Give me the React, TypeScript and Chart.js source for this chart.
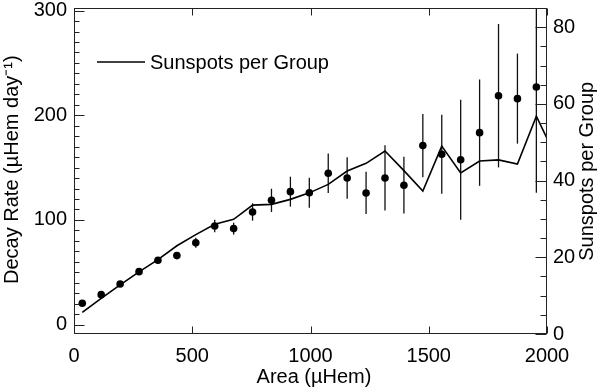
import { useEffect, useRef } from "react";
import { Chart, registerables } from "chart.js";

Chart.register(...registerables);

// ---------- data ----------
const AREA = [35, 115, 195, 275, 355, 435, 515, 595, 675, 755, 835, 915, 995, 1075, 1155, 1235, 1315, 1395, 1475, 1555, 1635, 1715, 1795, 1875, 1955];
const DECAY_RATE = [20.4, 28.6, 38.8, 50.6, 61.4, 65.9, 78.2, 94.2, 91.7, 107.6, 118.7, 127.0, 126.0, 144.6, 140.1, 125.8, 140.1, 133.2, 171.0, 162.7, 157.5, 183.4, 218.7, 215.9, 227.0];
const DECAY_RATE_ERROR = [2, 2, 2, 2.5, 3, 3, 4.8, 6, 5.7, 8.3, 11.1, 14.3, 14.3, 18.9, 19.9, 20.2, 31.2, 27.1, 30.3, 37.8, 57.3, 50.8, 68.5, 43, 101];
const LINE_AREA = [35, 115, 195, 275, 355, 435, 515, 595, 675, 755, 835, 915, 995, 1075, 1155, 1235, 1315, 1395, 1475, 1555, 1635, 1715, 1795, 1875, 1955, 2035];
const SUNSPOTS_PER_GROUP = [5.65, 9.3, 12.8, 16.2, 19.4, 23.0, 25.9, 28.6, 29.9, 33.6, 33.8, 35.1, 36.8, 39.0, 42.5, 44.5, 47.7, 42.6, 37.3, 49.0, 42.0, 45.1, 45.4, 44.3, 56.8, 46.5];

const X_TICKS = [0, 500, 1000, 1500, 2000];
const Y_TICKS = [0, 100, 200, 300];
const Y2_TICKS = [0, 20, 40, 60, 80];
const Y_MINOR_STEP = 10;
const Y2_MINOR_STEP = 5;

const LEGEND_LABEL = "Sunspots per Group";
const X_TITLE = "Area (µHem)";
const Y_TITLE = "Decay Rate (µHem day⁻¹)";
const Y2_TITLE = "Sunspots per Group";

const FONT = "'Liberation Sans', Arial, Helvetica, sans-serif";
const FONT_SIZE = 20;

const drawPlugin = {
  id: "idlFrame",
  beforeDatasetsDraw(chart: any) {
    const { ctx, chartArea: a, scales } = chart;
    const xs = scales.x;
    const ys = scales.y;
    ctx.save();
    ctx.beginPath();
    ctx.rect(a.left, a.top, a.right - a.left, a.bottom - a.top);
    ctx.clip();
    ctx.strokeStyle = "#111";
    ctx.lineWidth = 1.3;
    AREA.forEach((v, i) => {
      const x = xs.getPixelForValue(v);
      const yTop = ys.getPixelForValue(DECAY_RATE[i] + DECAY_RATE_ERROR[i]);
      const yBot = ys.getPixelForValue(DECAY_RATE[i] - DECAY_RATE_ERROR[i]);
      ctx.beginPath();
      ctx.moveTo(x, yTop);
      ctx.lineTo(x, yBot);
      ctx.stroke();
    });
    ctx.restore();
  },
  afterDraw(chart: any) {
    const { ctx, chartArea: a, scales } = chart;
    const xs = scales.x;
    const ys = scales.y;
    const y2 = scales.y2;
    const L = Math.round(a.left) + 0.5;
    const R = Math.round(a.right) - 0.5;
    const T = Math.round(a.top) + 0.5;
    const B = Math.round(a.bottom) - 0.5;
    ctx.save();
    ctx.strokeStyle = "#222";
    ctx.lineWidth = 1;
    // frame
    ctx.strokeRect(L, T, R - L, B - T);
    ctx.beginPath();
    // x ticks (top & bottom, inward)
    X_TICKS.forEach((v) => {
      const x = Math.round(xs.getPixelForValue(v)) + 0.5;
      ctx.moveTo(x, B);
      ctx.lineTo(x, B - 7);
      ctx.moveTo(x, T);
      ctx.lineTo(x, T + 7);
    });
    // left axis
    for (let v = Math.ceil(ys.min / Y_MINOR_STEP) * Y_MINOR_STEP; v <= ys.max; v += Y_MINOR_STEP) {
      const y = Math.round(ys.getPixelForValue(v)) + 0.5;
      const major = Y_TICKS.includes(v);
      ctx.moveTo(L, y);
      ctx.lineTo(L + (major ? 10 : 5), y);
    }
    // right axis
    for (let v = Math.ceil(y2.min / Y2_MINOR_STEP) * Y2_MINOR_STEP; v <= y2.max; v += Y2_MINOR_STEP) {
      const y = Math.round(y2.getPixelForValue(v)) + 0.5;
      const major = Y2_TICKS.includes(v);
      ctx.moveTo(R, y);
      ctx.lineTo(R - (major ? 11 : 6), y);
    }
    ctx.stroke();

    // legend
    ctx.strokeStyle = "#000";
    ctx.lineWidth = 1.5;
    ctx.beginPath();
    ctx.moveTo(a.left + 23, a.top + 54);
    ctx.lineTo(a.left + 71, a.top + 54);
    ctx.stroke();
    ctx.fillStyle = "#000";
    ctx.font = `${FONT_SIZE}px ${FONT}`;
    ctx.textAlign = "left";
    ctx.textBaseline = "alphabetic";
    ctx.fillText(LEGEND_LABEL, a.left + 76, a.top + 60.5);

    // axis titles
    ctx.textAlign = "center";
    ctx.fillText(X_TITLE, (a.left + a.right) / 2 + 3.5, 383);

    ctx.save();
    ctx.translate(18, 169.7);
    ctx.rotate(-Math.PI / 2);
    ctx.fillText(Y_TITLE, 0, 0);
    ctx.restore();

    ctx.save();
    ctx.translate(592.5, 171.3);
    ctx.rotate(-Math.PI / 2);
    ctx.fillText(Y2_TITLE, 0, 0);
    ctx.restore();

    ctx.restore();
  },
};

const tickFont = { family: FONT, size: FONT_SIZE };

export default function App() {
  const ref = useRef<HTMLCanvasElement>(null);
  useEffect(() => {
    const canvas = ref.current;
    if (!canvas) return;
    const chart = new Chart(canvas, {
      type: "scatter",
      data: {
        datasets: [
          {
            label: "Decay Rate",
            data: AREA.map((x, i) => ({ x, y: DECAY_RATE[i] })),
            xAxisID: "x",
            yAxisID: "y",
            showLine: false,
            pointRadius: 3.8,
            pointBackgroundColor: "#000",
            pointBorderWidth: 0,
            pointBorderColor: "#000",
            order: 1,
          } as any,
          {
            label: LEGEND_LABEL,
            data: LINE_AREA.map((x, i) => ({ x, y: SUNSPOTS_PER_GROUP[i] })),
            xAxisID: "x",
            yAxisID: "y2",
            showLine: true,
            borderColor: "#000",
            borderWidth: 1.6,
            pointRadius: 0,
            tension: 0,
            fill: false,
            clip: 0,
            order: 2,
          } as any,
        ],
      },
      options: {
        responsive: false,
        animation: false,
        events: [],
        layout: { padding: { top: 8, left: 0, right: 0, bottom: 0 }, autoPadding: false },
        plugins: {
          legend: { display: false },
          tooltip: { enabled: false },
        },
        scales: {
          x: {
            type: "linear",
            position: "bottom",
            min: 0,
            max: 2000,
            afterBuildTicks: (s: any) => {
              s.ticks = X_TICKS.map((value) => ({ value }));
            },
            afterFit: (s: any) => {
              s.height = 55;
              s.paddingLeft = 0;
              s.paddingRight = 0;
            },
            grid: { display: false, drawTicks: false },
            border: { display: false },
            ticks: {
              font: tickFont,
              color: "#000",
              padding: 10,
              maxRotation: 0,
              autoSkip: false,
              callback: (v: any) => String(v),
            },
          },
          y: {
            type: "linear",
            position: "left",
            min: -9,
            max: 302.5,
            afterBuildTicks: (s: any) => {
              s.ticks = Y_TICKS.map((value) => ({ value }));
            },
            afterFit: (s: any) => {
              s.width = 74;
              s.paddingTop = 0;
              s.paddingBottom = 0;
            },
            grid: { display: false, drawTicks: false },
            border: { display: false },
            ticks: {
              font: tickFont,
              color: "#000",
              padding: 7,
              autoSkip: false,
              callback: (v: any) => String(v),
            },
          },
          y2: {
            type: "linear",
            position: "right",
            min: 0,
            max: 85,
            afterBuildTicks: (s: any) => {
              s.ticks = Y2_TICKS.map((value) => ({ value }));
            },
            afterFit: (s: any) => {
              s.width = 53;
              s.paddingTop = 0;
              s.paddingBottom = 0;
            },
            grid: { display: false, drawTicks: false },
            border: { display: false },
            ticks: {
              font: tickFont,
              color: "#000",
              padding: 6,
              autoSkip: false,
              callback: (v: any) => String(v),
            },
          },
        },
      } as any,
      plugins: [drawPlugin],
    });
    return () => chart.destroy();
  }, []);
  return (
    <div style={{ position: "absolute", left: 0, top: 0, width: 600, height: 389, background: "#fff" }}>
      <canvas ref={ref} width={600} height={389} style={{ display: "block", width: 600, height: 389 }} />
    </div>
  );
}
